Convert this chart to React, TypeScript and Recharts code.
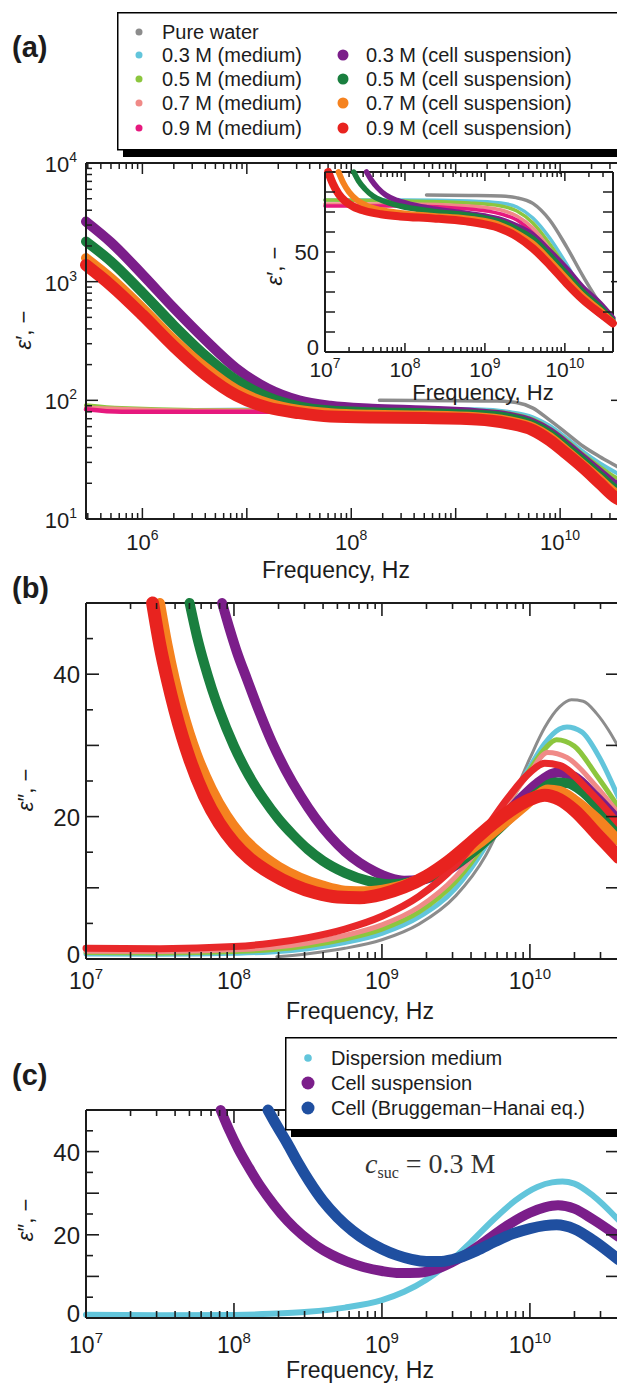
import React from 'react';
import { LineChart, Line, XAxis, YAxis, ReferenceLine } from 'recharts';

const INK = '#1c1c1c';
const SANS = '"Liberation Sans", Arial, Helvetica, sans-serif';
const SERIF = '"Liberation Serif", "Times New Roman", serif';

const C = {
  pure: '#8c8c8c',
  m03: '#62c5db',
  m05: '#8cc63e',
  m07: '#f08a87',
  m09: '#e6197e',
  m09b: '#e8282a',
  c03: '#7b1e8a',
  c05: '#1a7f3f',
  c07: '#f5821f',
  c09: '#e8231f',
  bh: '#1f4fa0',
};

// ---------- Panel (a) main: [log10 f (Hz), eps'] ----------
const aPure = [[8.27, 100], [9.0, 99], [9.4, 98.5], [9.58, 96], [9.74, 86], [9.9, 68], [10.06, 53], [10.22, 41], [10.38, 33.5], [10.52, 28.5], [10.6, 26]];
const aMed03 = [[5.46, 85], [6.5, 83], [7.5, 84], [8.5, 85], [9.2, 84], [9.5, 80], [9.74, 72], [9.9, 61], [10.06, 48], [10.22, 37], [10.38, 29.5], [10.52, 25], [10.6, 23]];
const aMed05 = [[5.46, 91], [5.8, 86], [6.5, 83], [7.5, 83], [8.5, 84], [9.2, 82], [9.5, 78], [9.74, 69], [9.9, 58], [10.06, 46], [10.22, 35], [10.38, 27.5], [10.52, 22.7], [10.6, 21]];
const aMed07 = [[5.46, 87], [6.5, 82], [7.5, 82], [8.5, 82], [9.2, 80], [9.5, 76], [9.74, 67], [9.9, 56], [10.06, 43.5], [10.22, 33], [10.38, 25.5], [10.52, 20.6], [10.6, 19]];
const aMed09 = [[5.46, 84], [5.8, 80], [6.5, 80], [7.5, 80], [8.5, 80], [9.2, 78], [9.5, 73], [9.74, 64], [9.9, 53], [10.06, 41], [10.22, 31], [10.38, 24], [10.52, 19.5], [10.6, 18]];
const aCell03 = [[5.46, 3210], [5.7, 2140], [6.0, 1150], [6.3, 600], [6.6, 325], [6.9, 186], [7.2, 126], [7.5, 100], [7.8, 90], [8.2, 85], [8.7, 82], [9.2, 78], [9.5, 73], [9.74, 64], [9.9, 54], [10.06, 42], [10.22, 32], [10.38, 24.5], [10.52, 19.5], [10.6, 18]];
const aCell05 = [[5.46, 2180], [5.7, 1480], [6.0, 810], [6.3, 430], [6.6, 240], [6.9, 148], [7.2, 107], [7.5, 89], [7.8, 82], [8.2, 79.5], [8.7, 78], [9.2, 75.5], [9.5, 71], [9.74, 62], [9.9, 52], [10.06, 40], [10.22, 30.5], [10.38, 23], [10.52, 18], [10.6, 16.5]];
const aCell07 = [[5.46, 1580], [5.7, 1070], [6.0, 600], [6.3, 325], [6.6, 190], [6.9, 123], [7.2, 95], [7.5, 83], [7.8, 78], [8.2, 75.5], [8.7, 74.5], [9.2, 72], [9.5, 67], [9.74, 59], [9.9, 49], [10.06, 37.5], [10.22, 28.5], [10.38, 21.5], [10.52, 16.8], [10.6, 15.5]];
const aCell09 = [[5.46, 1380], [5.7, 930], [6.0, 525], [6.3, 285], [6.6, 166], [6.9, 110], [7.2, 87], [7.5, 78], [7.8, 73], [8.2, 71.5], [8.7, 71], [9.2, 69], [9.5, 64], [9.74, 56], [9.9, 46], [10.06, 35.5], [10.22, 27], [10.38, 20], [10.52, 15.4], [10.6, 14]];

// ---------- Panel (a) inset: [log10 f, eps'] ----------
const iPure = [[8.27, 78.5], [8.8, 78.3], [9.2, 78], [9.39, 77.2], [9.6, 74.3], [9.81, 66], [10.02, 52.7], [10.23, 37.7], [10.44, 24.3], [10.6, 17]];
const iMed03 = [[7.0, 76], [8.0, 76], [8.8, 75.5], [9.2, 74.5], [9.4, 72.5], [9.6, 67], [9.81, 57], [10.02, 44], [10.23, 30], [10.44, 20.5], [10.6, 15.5]];
const iMed05 = [[7.0, 76], [8.0, 75.5], [8.8, 74.5], [9.2, 73], [9.4, 70.5], [9.6, 64.5], [9.81, 54], [10.02, 41.5], [10.23, 28.5], [10.44, 19.5], [10.6, 15]];
const iMed07 = [[7.0, 74], [8.0, 74], [8.8, 73], [9.2, 71], [9.4, 68], [9.6, 62], [9.81, 51.5], [10.02, 39], [10.23, 27], [10.44, 18.8], [10.6, 14.8]];
const iMed09 = [[7.0, 73], [8.0, 73], [8.8, 71.5], [9.2, 69], [9.4, 66], [9.6, 59.5], [9.81, 49], [10.02, 37], [10.23, 26], [10.44, 18], [10.6, 14.5]];
const iCell03 = [[7.52, 90], [7.58, 86], [7.66, 82], [7.76, 78.5], [7.9, 75.8], [8.1, 73.5], [8.36, 71.5], [8.77, 69.3], [9.0, 68], [9.19, 66.3], [9.4, 63], [9.6, 58.5], [9.81, 50.5], [10.02, 41.8], [10.23, 32], [10.44, 24.3], [10.6, 17]];
const iCell05 = [[7.36, 90], [7.42, 85.5], [7.5, 81.5], [7.6, 78], [7.73, 75.5], [7.94, 73], [8.36, 70.3], [8.77, 68.5], [9.0, 67], [9.19, 65.2], [9.4, 61.5], [9.6, 56.8], [9.81, 48.5], [10.02, 39.3], [10.23, 30], [10.44, 22.7], [10.6, 16]];
const iCell07 = [[7.17, 90], [7.23, 84.5], [7.3, 80], [7.4, 76], [7.52, 73.2], [7.7, 71], [7.94, 69.5], [8.36, 68], [8.77, 66.8], [9.0, 65.5], [9.19, 63.5], [9.4, 59.5], [9.6, 54.3], [9.81, 46], [10.02, 36.8], [10.23, 28], [10.44, 21], [10.6, 15]];
const iCell09 = [[7.04, 90], [7.1, 84], [7.17, 79], [7.25, 75.5], [7.35, 72.8], [7.5, 70.5], [7.7, 68.9], [7.94, 67.8], [8.36, 66.8], [8.77, 65.3], [9.0, 63.8], [9.19, 61.8], [9.4, 57.7], [9.6, 51.8], [9.81, 43.5], [10.02, 34.3], [10.23, 26], [10.44, 19.3], [10.6, 14.3]];

// ---------- Panel (b): [log10 f, eps''] ----------
const bPure = [[8.29, 0.3], [8.5, 0.75], [8.75, 1.5], [9.0, 2.7], [9.25, 4.9], [9.5, 8.9], [9.7, 14.5], [9.85, 21], [10.0, 28.2], [10.1, 32.5], [10.2, 35.4], [10.28, 36.4], [10.36, 36.2], [10.45, 34.5], [10.53, 32.2], [10.6, 29.7]];
const bMed03 = [[7.0, 0.7], [7.5, 0.65], [8.0, 0.8], [8.25, 1.0], [8.5, 1.45], [8.75, 2.3], [9.0, 3.6], [9.25, 5.9], [9.5, 10], [9.7, 15.8], [9.85, 21.5], [10.0, 27], [10.1, 30.3], [10.2, 32.3], [10.25, 32.6], [10.35, 31.9], [10.47, 28.3], [10.6, 22.6]];
const bMed05 = [[7.0, 0.9], [7.5, 0.85], [8.0, 1.05], [8.25, 1.3], [8.5, 1.85], [8.75, 2.8], [9.0, 4.2], [9.25, 6.6], [9.5, 10.9], [9.7, 16.4], [9.85, 21.7], [10.0, 26.6], [10.1, 29.5], [10.18, 30.8], [10.3, 29.9], [10.45, 25.8], [10.6, 21.3]];
const bMed07 = [[7.0, 1.1], [7.5, 1.05], [8.0, 1.3], [8.25, 1.6], [8.5, 2.25], [8.75, 3.3], [9.0, 4.8], [9.25, 7.3], [9.5, 11.6], [9.7, 16.9], [9.85, 21.9], [10.0, 26.2], [10.12, 29], [10.25, 28.3], [10.45, 24.2], [10.6, 20.4]];
const bMed09 = [[7.0, 1.5], [7.5, 1.45], [8.0, 1.75], [8.25, 2.2], [8.5, 3.0], [8.75, 4.2], [9.0, 6.0], [9.25, 8.8], [9.5, 13.2], [9.7, 18.3], [9.85, 22.6], [10.0, 26.2], [10.1, 27.5], [10.2, 27.2], [10.4, 23.6], [10.6, 19]];
const bCell03 = [[7.92, 50], [7.97, 46.4], [8.02, 43.1], [8.09, 39.2], [8.17, 34.8], [8.26, 30.3], [8.35, 26.5], [8.45, 22.9], [8.55, 19.8], [8.65, 17.2], [8.75, 15.1], [8.85, 13.5], [8.95, 12.3], [9.05, 11.4], [9.15, 11.0], [9.25, 11.1], [9.35, 11.6], [9.5, 13.2], [9.65, 15.8], [9.8, 19.3], [9.95, 22.8], [10.05, 24.7], [10.19, 26.2], [10.3, 25.6], [10.45, 22.7], [10.6, 19.4]];
const bCell05 = [[7.7, 50], [7.75, 45.3], [7.8, 41.4], [7.85, 38], [7.9, 35], [8.0, 29.9], [8.1, 25.8], [8.2, 22.5], [8.3, 19.7], [8.4, 17.4], [8.5, 15.4], [8.6, 13.8], [8.75, 12.1], [8.9, 11.0], [9.05, 10.5], [9.2, 10.8], [9.35, 11.7], [9.5, 13.3], [9.65, 15.6], [9.8, 18.5], [9.95, 21.5], [10.05, 23.3], [10.17, 24.8], [10.25, 24.7], [10.35, 23.6], [10.45, 21.6], [10.6, 18.3]];
const bCell07 = [[7.5, 50], [7.55, 44.2], [7.6, 39.3], [7.65, 35.2], [7.7, 31.7], [7.75, 28.7], [7.85, 23.9], [7.95, 20.2], [8.05, 17.4], [8.15, 15.3], [8.3, 13.0], [8.45, 11.4], [8.6, 10.3], [8.75, 9.6], [8.9, 9.5], [9.05, 9.9], [9.2, 10.8], [9.35, 12.1], [9.5, 13.9], [9.65, 16.1], [9.8, 18.6], [9.95, 21.2], [10.05, 23.0], [10.12, 23.8], [10.2, 23.6], [10.3, 22.4], [10.45, 19.8], [10.6, 16.6]];
const bCell09 = [[7.45, 50], [7.5, 44], [7.55, 39.2], [7.6, 35], [7.65, 31.3], [7.7, 28.1], [7.8, 22.9], [7.9, 19.1], [8.0, 16.3], [8.1, 14.2], [8.25, 12.0], [8.4, 10.4], [8.55, 9.3], [8.7, 8.7], [8.85, 8.6], [9.0, 9.1], [9.15, 10.1], [9.3, 11.6], [9.45, 13.7], [9.6, 16.3], [9.75, 19.0], [9.9, 21.3], [10.0, 22.4], [10.1, 23], [10.2, 22.4], [10.3, 20.9], [10.45, 17.6], [10.6, 14.3]];

// ---------- Panel (c): [log10 f, eps''] ----------
const cMedium = [[7.0, 0.8], [7.5, 0.65], [8.0, 0.75], [8.25, 1.0], [8.5, 1.5], [8.75, 2.5], [9.0, 4.3], [9.15, 6.3], [9.3, 9.2], [9.45, 13.2], [9.6, 18.2], [9.75, 23.5], [9.9, 28.2], [10.05, 31.5], [10.15, 32.6], [10.22, 32.8], [10.3, 32.3], [10.43, 29.3], [10.6, 23.5]];
const cSuspension = [[7.91, 50], [7.97, 45], [8.03, 40.6], [8.1, 36.2], [8.18, 31.6], [8.27, 27.2], [8.36, 23.4], [8.46, 20.0], [8.56, 17.3], [8.66, 15.2], [8.76, 13.6], [8.88, 12.2], [9.0, 11.3], [9.12, 10.8], [9.25, 10.9], [9.4, 12.2], [9.55, 14.9], [9.7, 18.5], [9.85, 22.3], [10.0, 25.3], [10.1, 26.6], [10.19, 27.1], [10.3, 26.3], [10.43, 23.6], [10.6, 19.5]];
const cCellBH = [[8.23, 50], [8.29, 46.2], [8.36, 42], [8.43, 37.5], [8.51, 32.8], [8.6, 28.2], [8.7, 24.2], [8.8, 21.0], [8.9, 18.5], [9.0, 16.6], [9.1, 15.1], [9.2, 14.1], [9.3, 13.6], [9.4, 13.6], [9.52, 14.5], [9.64, 16.2], [9.76, 18.3], [9.88, 20.2], [10.0, 21.5], [10.1, 22.2], [10.18, 22.4], [10.3, 21.4], [10.43, 18.6], [10.6, 14]];

// ---------- axes / legends ----------
const decades = [5, 6, 7, 8, 9, 10];
const xLabelsA = [1e6, 1e8, 1e10];
const xLabelsBC = [1e7, 1e8, 1e9, 1e10];
const yTicksLin = [0, 5, 10, 15, 20, 25, 30, 35, 40, 45, 50];
const yLabelsLin = [0, 20, 40];
const yTicksInset = [0, 10, 20, 30, 40, 50, 60, 70, 80, 90];
const yLabelsInset = [0, 50];
const yDecadesA = [1, 2, 3];

const legendACol1 = [
  { name: 'Pure water', color: C.pure, r: 3.5 },
  { name: '0.3 M (medium)', color: C.m03, r: 3.5 },
  { name: '0.5 M (medium)', color: C.m05, r: 3.5 },
  { name: '0.7 M (medium)', color: C.m07, r: 3.5 },
  { name: '0.9 M (medium)', color: C.m09, r: 3.5 },
];
const legendACol2 = [
  { name: '0.3 M (cell suspension)', color: C.c03, r: 5.5 },
  { name: '0.5 M (cell suspension)', color: C.c05, r: 5.5 },
  { name: '0.7 M (cell suspension)', color: C.c07, r: 5.5 },
  { name: '0.9 M (cell suspension)', color: C.c09, r: 5.5 },
];
const legendC = [
  { name: 'Dispersion medium', color: C.m03, r: 3.8 },
  { name: 'Cell suspension', color: C.c03, r: 6.5 },
  { name: 'Cell (Bruggeman\u2212Hanai eq.)', color: C.bh, r: 6.5 },
];

const X_LO_A = Math.pow(10, 5.46);
const X_HI = 4e10;

const pts = (a: number[][]) => a.map(([l, v]) => ({ f: Math.pow(10, l), v }));

const logTicks = (lo: number, hi: number) => {
  const out: number[] = [];
  decades.forEach((d) => {
    for (let k = 1; k <= 9; k++) {
      const t = k * Math.pow(10, d);
      if (t >= lo * 0.99999 && t <= hi * 1.00001) out.push(t);
    }
  });
  return out;
};
const logYTicksA = (() => {
  const out: number[] = [];
  yDecadesA.forEach((d) => {
    for (let k = 1; k <= 9; k++) out.push(k * Math.pow(10, d));
  });
  out.push(1e4);
  return out;
})();

const isDecade = (v: number) => {
  const e = Math.round(Math.log10(v));
  return Math.abs(v / Math.pow(10, e) - 1) < 1e-6;
};
const expOf = (v: number) => Math.round(Math.log10(v));
const inList = (list: number[], v: number) => list.some((l) => (l === 0 ? v === 0 : Math.abs(v / l - 1) < 1e-6));

type XCfg = { plotH: number; major: number; minor: number; topMajor: number; topMinor: number; labels: number[]; fs: number; efs: number; dy: number; sw: number };
const makeLogXTick = (c: XCfg) => (p: any) => {
  const x = p.x;
  const y = p.y;
  const v = p.payload.value;
  const maj = isDecade(v);
  const lab = inList(c.labels, v);
  return (
    <g>
      <line x1={x} x2={x} y1={y} y2={y - (maj ? c.major : c.minor)} stroke={INK} strokeWidth={c.sw} />
      <line x1={x} x2={x} y1={y - c.plotH} y2={y - c.plotH + (maj ? c.topMajor : c.topMinor)} stroke={INK} strokeWidth={c.sw} />
      {lab ? (
        <text x={x} y={y + c.dy} textAnchor="middle" fontFamily={SANS} fontSize={c.fs} fill={INK}>
          10<tspan dy={-c.fs * 0.45} fontSize={c.efs}>{expOf(v)}</tspan>
        </text>
      ) : null}
    </g>
  );
};

type YCfg = { plotW: number; majorStep: number; major: number; minor: number; rightMajor: number; rightMinor: number; labels: number[]; fs: number; gap: number; base: number; zeroLift?: number; sw: number; log?: boolean; efs?: number };
const makeYTick = (c: YCfg) => (p: any) => {
  const x = p.x;
  const y = p.y;
  const v = p.payload.value;
  const maj = c.log ? isDecade(v) : Math.abs(v / c.majorStep - Math.round(v / c.majorStep)) < 1e-6;
  const lab = inList(c.labels, v);
  const rl = maj ? c.rightMajor : c.rightMinor;
  return (
    <g>
      <line x1={x} x2={x + (maj ? c.major : c.minor)} y1={y} y2={y} stroke={INK} strokeWidth={c.sw} />
      {rl > 0 ? <line x1={x + c.plotW} x2={x + c.plotW - rl} y1={y} y2={y} stroke={INK} strokeWidth={c.sw} /> : null}
      {lab ? (
        c.log ? (
          <text x={x - c.gap} y={y + c.base} textAnchor="end" fontFamily={SANS} fontSize={c.fs} fill={INK}>
            10<tspan dy={-c.fs * 0.45} fontSize={c.efs}>{expOf(v)}</tspan>
          </text>
        ) : (
          <text x={x - c.gap} y={y + c.base - (v === 0 ? c.zeroLift || 0 : 0)} textAnchor="end" fontFamily={SANS} fontSize={c.fs} fill={INK}>
            {v}
          </text>
        )
      ) : null}
    </g>
  );
};

const axisLine = { stroke: INK, strokeWidth: 2 };

const L = (data: number[][], color: string, w: number, key: string) => (
  <Line
    key={key}
    data={pts(data)}
    dataKey="v"
    type="monotone"
    stroke={color}
    strokeWidth={w}
    strokeLinecap="round"
    strokeLinejoin="round"
    dot={false}
    activeDot={false}
    isAnimationActive={false}
  />
);

function MainA() {
  const plotH = 356;
  const plotW = 537;
  return (
    <LineChart width={640} height={579} margin={{ top: 163, right: 17, bottom: 0, left: 0 }}>
      <XAxis
        dataKey="f"
        type="number"
        scale="log"
        domain={[X_LO_A, X_HI]}
        ticks={logTicks(X_LO_A, X_HI)}
        interval={0}
        tickSize={0}
        tickMargin={0}
        height={60}
        axisLine={axisLine}
        tickLine={false}
        tick={makeLogXTick({ plotH, major: 11, minor: 6, topMajor: 11, topMinor: 6, labels: xLabelsA, fs: 22, efs: 14, dy: 31, sw: 1.5 })}
      />
      <YAxis
        type="number"
        scale="log"
        domain={[10, 10000]}
        ticks={logYTicksA}
        interval={0}
        tickSize={0}
        tickMargin={0}
        width={86}
        axisLine={axisLine}
        tickLine={false}
        tick={makeYTick({ plotW, majorStep: 1, major: 12, minor: 6, rightMajor: 12, rightMinor: 6, labels: [10, 100, 1000, 10000], fs: 22, efs: 14, gap: 9, base: 9, sw: 1.5, log: true })}
      />
      <ReferenceLine y={10000} stroke={INK} strokeWidth={2} ifOverflow="visible" />
      <ReferenceLine x={X_HI} stroke={INK} strokeWidth={2} ifOverflow="visible" />
      {L(aMed03, C.m03, 4, 'a1')}
      {L(aMed05, C.m05, 4, 'a2')}
      {L(aMed07, C.m07, 4, 'a3')}
      {L(aMed09, C.m09, 4.5, 'a4')}
      {L(aPure, C.pure, 3.5, 'a0')}
      {L(aCell03, C.c03, 10, 'a5')}
      {L(aCell05, C.c05, 10, 'a6')}
      {L(aCell07, C.c07, 10, 'a7')}
      {L(aCell09, C.c09, 12, 'a8')}
    </LineChart>
  );
}

function InsetA() {
  const plotH = 180;
  const plotW = 288;
  return (
    <LineChart width={640} height={392} margin={{ top: 172, right: 27, bottom: 0, left: 0 }}>
      <XAxis
        dataKey="f"
        type="number"
        scale="log"
        domain={[1e7, X_HI]}
        ticks={logTicks(1e7, X_HI)}
        interval={0}
        tickSize={0}
        tickMargin={0}
        height={40}
        axisLine={axisLine}
        tickLine={false}
        tick={makeLogXTick({ plotH, major: 9, minor: 5, topMajor: 9, topMinor: 5, labels: xLabelsBC, fs: 21, efs: 14, dy: 25, sw: 1.5 })}
      />
      <YAxis
        type="number"
        domain={[0, 90]}
        ticks={yTicksInset}
        interval={0}
        tickSize={0}
        tickMargin={0}
        width={325}
        axisLine={axisLine}
        tickLine={false}
        tick={makeYTick({ plotW, majorStep: 10, major: 10, minor: 10, rightMajor: 10, rightMinor: 10, labels: yLabelsInset, fs: 22, gap: 6, base: 8, zeroLift: 5, sw: 1.5 })}
      />
      <ReferenceLine y={90} stroke={INK} strokeWidth={2} ifOverflow="visible" />
      <ReferenceLine x={X_HI} stroke={INK} strokeWidth={2} ifOverflow="visible" />
      {L(iMed03, C.m03, 3.5, 'i1')}
      {L(iMed05, C.m05, 3.5, 'i2')}
      {L(iMed07, C.m07, 3.5, 'i3')}
      {L(iMed09, C.m09, 3.5, 'i4')}
      {L(iPure, C.pure, 3.5, 'i0')}
      {L(iCell03, C.c03, 5.5, 'i5')}
      {L(iCell05, C.c05, 5.5, 'i6')}
      {L(iCell07, C.c07, 6, 'i7')}
      {L(iCell09, C.c09, 8, 'i8')}
    </LineChart>
  );
}

function LossChart(props: { height: number; top: number; plotH: number; dy: number; children: React.ReactNode }) {
  const plotW = 533;
  return (
    <LineChart width={640} height={props.height} margin={{ top: props.top, right: 21, bottom: 0, left: 0 }}>
      <XAxis
        dataKey="f"
        type="number"
        scale="log"
        domain={[1e7, X_HI]}
        ticks={logTicks(1e7, X_HI)}
        interval={0}
        tickSize={0}
        tickMargin={0}
        height={60}
        axisLine={axisLine}
        tickLine={false}
        tick={makeLogXTick({ plotH: props.plotH, major: 15, minor: 7, topMajor: 13, topMinor: 6, labels: xLabelsBC, fs: 23, efs: 15, dy: props.dy, sw: 1.6 })}
      />
      <YAxis
        type="number"
        domain={[0, 50]}
        ticks={yTicksLin}
        interval={0}
        tickSize={0}
        tickMargin={0}
        width={86}
        axisLine={axisLine}
        tickLine={false}
        tick={makeYTick({ plotW, majorStep: 10, major: 13, minor: 7, rightMajor: 13, rightMinor: 0, labels: yLabelsLin, fs: 24, gap: 6, base: 9, zeroLift: 5, sw: 1.6 })}
      />
      <ReferenceLine y={50} stroke={INK} strokeWidth={2} ifOverflow="visible" />
      <ReferenceLine x={X_HI} stroke={INK} strokeWidth={2} ifOverflow="visible" />
      {props.children}
    </LineChart>
  );
}

function YTitle(p: { x: number; y: number; prime: string }) {
  return (
    <text transform={`translate(${p.x},${p.y}) rotate(-90)`} textAnchor="middle" fontFamily={SANS} fontSize={22} fill={INK}>
      <tspan fontStyle="italic">{'\u03B5'}</tspan>
      {p.prime + ', \u2212'}
    </text>
  );
}

function XTitle(p: { x: number; y: number; fs?: number }) {
  return (
    <text x={p.x} y={p.y} textAnchor="middle" fontFamily={SANS} fontSize={p.fs || 23} fill={INK}>
      Frequency, Hz
    </text>
  );
}

function LegendRow(p: { x: number; y: number; color: string; r: number; name: string }) {
  return (
    <g>
      <circle cx={p.x} cy={p.y} r={p.r} fill={p.color} />
      <text x={p.x + 23} y={p.y + 7} fontFamily={SANS} fontSize={20} fill={INK}>
        {p.name}
      </text>
    </g>
  );
}

function Overlay() {
  const rowsA = [32, 55, 79, 103, 128];
  const rowsC = [1058, 1083, 1108];
  return (
    <svg width={617} height={1384} style={{ position: 'absolute', left: 0, top: 0 }}>
      {/* legend (a) */}
      <rect x={123} y={149} width={520} height={8} fill="#000" />
      <rect x={117.75} y={12.75} width={520} height={137} fill="#fff" stroke="#000" strokeWidth={1.5} />
      {legendACol1.map((e, i) => (
        <LegendRow key={'l1' + i} x={139} y={rowsA[i]} color={e.color} r={e.r} name={e.name} />
      ))}
      {legendACol2.map((e, i) => (
        <LegendRow key={'l2' + i} x={343} y={rowsA[i + 1]} color={e.color} r={e.r} name={e.name} />
      ))}
      {/* legend (c) */}
      <rect x={291} y={1129} width={360} height={8} fill="#000" />
      <rect x={285.75} y={1037.75} width={360} height={92} fill="#fff" stroke="#000" strokeWidth={1.5} />
      {legendC.map((e, i) => (
        <LegendRow key={'lc' + i} x={308} y={rowsC[i]} color={e.color} r={e.r} name={e.name} />
      ))}
      {/* panel letters */}
      <text x={12} y={57} fontFamily={SANS} fontWeight="bold" fontSize={29} fill={INK}>(a)</text>
      <text x={12} y={598} fontFamily={SANS} fontWeight="bold" fontSize={29} fill={INK}>(b)</text>
      <text x={12} y={1085} fontFamily={SANS} fontWeight="bold" fontSize={29} fill={INK}>(c)</text>
      {/* axis titles */}
      <YTitle x={31} y={330} prime={'\u2032'} />
      <YTitle x={282} y={266} prime={'\u2032'} />
      <YTitle x={33} y={790} prime={'\u2033'} />
      <YTitle x={33} y={1220} prime={'\u2033'} />
      <XTitle x={336} y={578} />
      <XTitle x={483} y={400} fs={22} />
      <XTitle x={360} y={1019} />
      <XTitle x={360} y={1378} />
      {/* annotation */}
      <text x={365} y={1173} fontFamily={SERIF} fontSize={28} fill="#333">
        <tspan fontStyle="italic">c</tspan>
        <tspan fontSize={16} dy={5}>suc</tspan>
        <tspan dy={-5}>{' = 0.3 M'}</tspan>
      </text>
    </svg>
  );
}

export default function App() {
  return (
    <div style={{ position: 'absolute', left: 0, top: 0, width: 617, height: 1384, overflow: 'hidden', background: '#fff' }}>
      <div style={{ position: 'absolute', left: 0, top: 0 }}>
        <MainA />
      </div>
      <div style={{ position: 'absolute', left: 0, top: 0 }}>
        <InsetA />
      </div>
      <div style={{ position: 'absolute', left: 0, top: 580 }}>
        <LossChart height={439} top={23} plotH={356} dy={30}>
          {L(bPure, C.pure, 3, 'b0')}
          {L(bMed03, C.m03, 5, 'b1')}
          {L(bMed05, C.m05, 5, 'b2')}
          {L(bMed07, C.m07, 5, 'b3')}
          {L(bCell03, C.c03, 10, 'b5')}
          {L(bCell05, C.c05, 10, 'b6')}
          {L(bCell07, C.c07, 10, 'b7')}
          {L(bMed09, C.m09b, 7, 'b4')}
          {L(bCell09, C.c09, 13, 'b8')}
        </LossChart>
      </div>
      <div style={{ position: 'absolute', left: 0, top: 1040 }}>
        <LossChart height={338} top={70} plotH={208} dy={35}>
          {L(cMedium, C.m03, 6, 'c0')}
          {L(cSuspension, C.c03, 10, 'c1')}
          {L(cCellBH, C.bh, 11, 'c2')}
        </LossChart>
      </div>
      <Overlay />
    </div>
  );
}
